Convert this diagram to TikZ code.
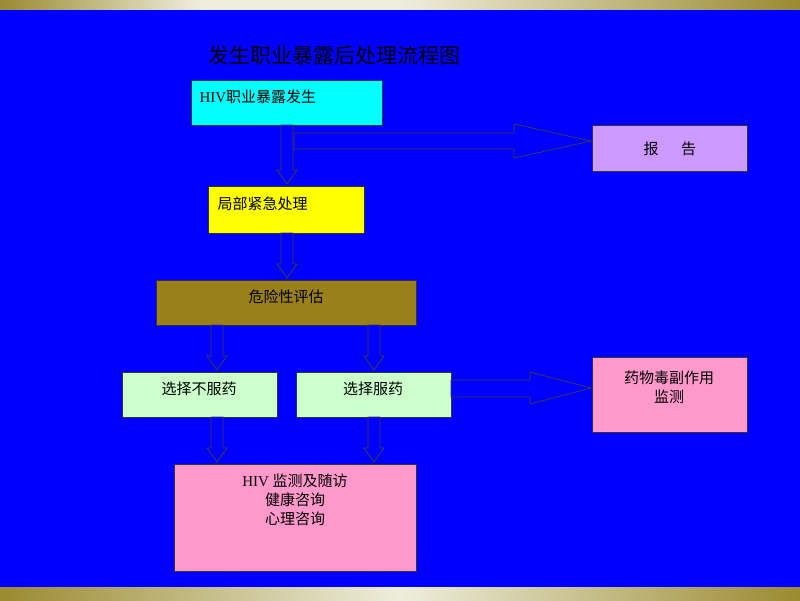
\documentclass[tikz,border=0pt]{standalone}
\usepackage{fontspec}
\newfontfamily\cjk{Noto Sans CJK SC}
\definecolor{bg}{HTML}{0000FF}
\definecolor{olivebar}{HTML}{9A8A30}
\definecolor{lightbar}{HTML}{EEEEDD}
\definecolor{cy}{HTML}{00FFFF}
\definecolor{lav}{HTML}{CC99FF}
\definecolor{yel}{HTML}{FFFF00}
\definecolor{ol}{HTML}{99801A}
\definecolor{lg}{HTML}{CCFFCC}
\definecolor{pk}{HTML}{FF99CC}
\begin{document}
\begin{tikzpicture}[x=1pt,y=-1pt,
  box/.style={draw=black!80,line width=0.8pt,inner sep=0pt,anchor=north west},
  txt/.style={font=\cjk\fontsize{15}{19}\selectfont,text=black,align=center},
  barrow/.style={draw=black!75,line width=0.7pt,fill=bg}]
\fill[bg] (0,0) rectangle (800,600);
\shade[left color=olivebar,right color=lightbar,middle color=lightbar] (0,0) rectangle (400,9);
\shade[left color=lightbar,right color=olivebar] (400,0) rectangle (800,9);
\shade[left color=olivebar,right color=lightbar] (0,587) rectangle (400,600);
\shade[left color=lightbar,right color=olivebar] (400,587) rectangle (800,600);
\node[font=\cjk\fontsize{21}{25}\selectfont,text=black,anchor=west] (title) at (205,56) {发生职业暴露后处理流程图};
% boxes
\node[box,fill=cy,minimum width=191pt,minimum height=45pt] (hiv) at (191,80) {};
\node[txt,anchor=west] at (196,97) {\fontspec{Liberation Serif}HIV\cjk 职业暴露发生};
\node[box,fill=lav,minimum width=155pt,minimum height=46pt] (rep) at (592,125) {};
\node[txt] at (rep.center) {报\hspace{1.5em}告};
\node[box,fill=yel,minimum width=156pt,minimum height=47pt] (loc) at (208,186) {};
\node[txt,anchor=west] at (214,204) {局部紧急处理};
\node[box,fill=ol,minimum width=260pt,minimum height=45pt] (risk) at (156,280) {};
\node[txt] at (286,297) {危险性评估};
\node[box,fill=lg,minimum width=155pt,minimum height=45pt] (no) at (122,372) {};
\node[txt] at (199,389) {选择不服药};
\node[box,fill=lg,minimum width=155pt,minimum height=45pt] (yes) at (296,372) {};
\node[txt] at (373,389) {选择服药};
\node[box,fill=pk,minimum width=155pt,minimum height=75pt] (drug) at (592,357) {};
\node[txt] at (669,387) {药物毒副作用\\监测};
\node[box,fill=pk,minimum width=242pt,minimum height=107pt] (mon) at (174,464) {};
\node[txt,anchor=north] at (295,470) {\fontspec{Liberation Serif}HIV \cjk 监测及随访\\健康咨询\\心理咨询};
% block arrows
\draw[barrow] (281,125) -- (281,170) -- (277,170) -- (287,184) -- (297,170) -- (293,170) -- (293,125) -- cycle;
\draw[barrow] (294,133) -- (514,133) -- (514,124) -- (591,141) -- (514,158) -- (514,149) -- (294,149) -- cycle;
\draw[barrow] (281,233) -- (281,264) -- (277,264) -- (287,278) -- (297,264) -- (293,264) -- (293,233) -- cycle;
\foreach \x/\a/\b in {217/325/370,374/325/370,217/417/462,374/417/462}{
  \draw[barrow] (\x-6,\a) -- (\x-6,\b-14) -- (\x-10,\b-14) -- (\x,\b) -- (\x+10,\b-14) -- (\x+6,\b-14) -- (\x+6,\a) -- cycle;}
\draw[barrow] (451,380) -- (530,380) -- (530,372) -- (591,388) -- (530,404) -- (530,397) -- (451,397) -- cycle;
\end{tikzpicture}
\end{document}
